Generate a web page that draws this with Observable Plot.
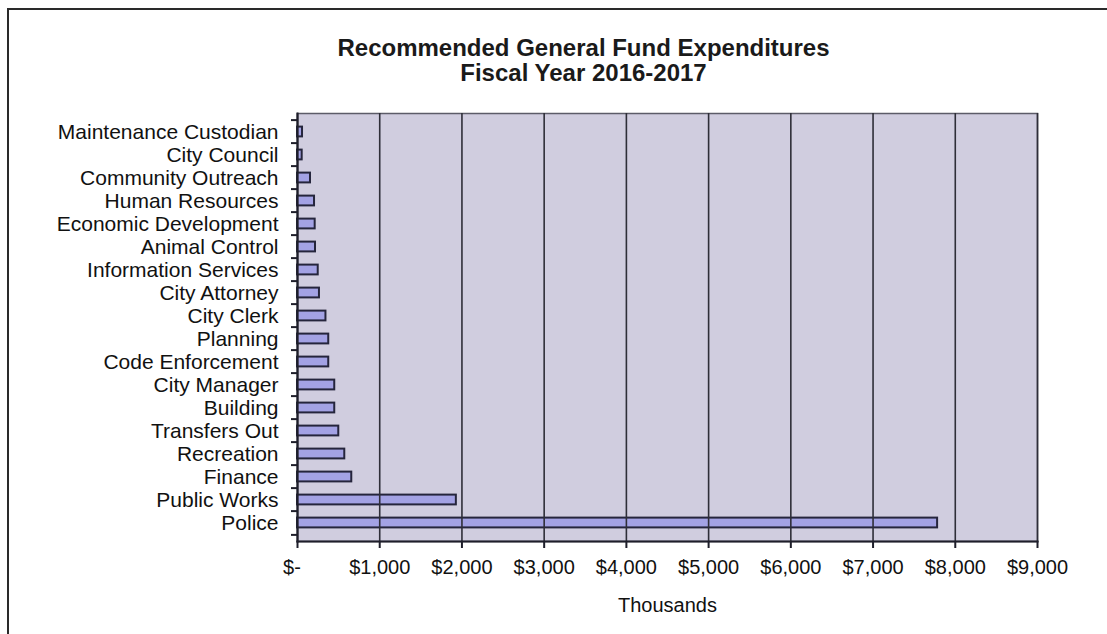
<!DOCTYPE html>
<html><head><meta charset="utf-8">
<script src="https://cdn.jsdelivr.net/npm/d3@7"></script>
<script src="https://cdn.jsdelivr.net/npm/@observablehq/plot@0.6"></script>
<style>
body{margin:0;background:#fff;}
#chart{position:relative;width:1107px;height:634px;overflow:hidden;background:#fff;}
#chart svg{display:block;}
#border{position:absolute;left:7px;top:8px;right:-10px;bottom:-10px;border-top:2px solid #2a2a2a;border-left:2px solid #2a2a2a;pointer-events:none;}
</style></head><body>
<div id="chart"><div id="border"></div></div>
<script>
const categories = [
  "Maintenance Custodian","City Council","Community Outreach","Human Resources",
  "Economic Development","Animal Control","Information Services","City Attorney",
  "City Clerk","Planning","Code Enforcement","City Manager","Building",
  "Transfers Out","Recreation","Finance","Public Works","Police"
];
const values = [61, 57, 158, 207, 215, 219, 252, 267, 346, 380, 380, 453, 453, 502, 575, 660, 1932, 7785];
const xTicks = [0,1000,2000,3000,4000,5000,6000,7000,8000,9000];
const xTickLabels = ["$-","$1,000","$2,000","$3,000","$4,000","$5,000","$6,000","$7,000","$8,000","$9,000"];
const titleText = "Recommended General Fund Expenditures\nFiscal Year 2016-2017";
const xLabel = "Thousands";

const data = categories.map((c, i) => ({category: c, value: values[i]}));
const labelMap = new Map(xTicks.map((t, i) => [t, i === 0 ? xTickLabels[i] + "\u00a0\u00a0" : xTickLabels[i]]));

const W = 1107, H = 634, mTop = 113, mBottom = 93, mLeft = 297, mRight = 70;
const band = (H - mTop - mBottom) / categories.length;
const ink = "#1e1e2a";

const plot = Plot.plot({
  width: W, height: H,
  marginLeft: mLeft, marginRight: mRight, marginTop: mTop, marginBottom: mBottom,
  style: {fontFamily: "'Liberation Sans', Arial, sans-serif", fontSize: "20px", color: "#111", background: "transparent", overflow: "visible"},
  x: {domain: [0, 9000]},
  y: {domain: categories, padding: 0},
  marks: [
    Plot.frame({fill: "#d0cddf", stroke: "#5c5c68", strokeWidth: 1.5}),
    Plot.barX(data, {x: "value", y: "category", fill: "#a3a2e4", stroke: "#25253c", strokeWidth: 2, insetTop: 6.6, insetBottom: 6.6}),
    Plot.gridX(xTicks, {stroke: "#2e2e38", strokeOpacity: 1, strokeWidth: 1.6}),
    Plot.frame({anchor: "left", stroke: ink, strokeWidth: 2}),
    Plot.frame({anchor: "bottom", stroke: ink, strokeWidth: 2}),
    Plot.axisX({ticks: xTicks, tickFormat: d => labelMap.get(d), tickSize: 7, tickPadding: 11, stroke: ink, strokeWidth: 2, label: null, fontSize: 20, fill: "#111"}),
    Plot.axisY({tickSize: 0, tickPadding: 19, label: null, fontSize: 21, fill: "#111"}),
    Plot.axisY({text: null, tickSize: 6, dy: -band / 2, stroke: ink, strokeWidth: 2, label: null}),
    Plot.axisY({ticks: [categories[categories.length - 1]], text: null, tickSize: 6, dy: band / 2, stroke: ink, strokeWidth: 2, label: null}),
    Plot.text([xLabel], {frameAnchor: "bottom", dy: 64, lineAnchor: "middle", fontSize: 20, fill: "#111"}),
    Plot.text([titleText], {frameAnchor: "top", dx: -84, dy: -53, lineAnchor: "middle", lineHeight: 1.06, fontSize: 24, fontWeight: "bold", fill: "#1a1a1a"})
  ]
});
document.getElementById("chart").prepend(plot);
</script>
</body></html>
